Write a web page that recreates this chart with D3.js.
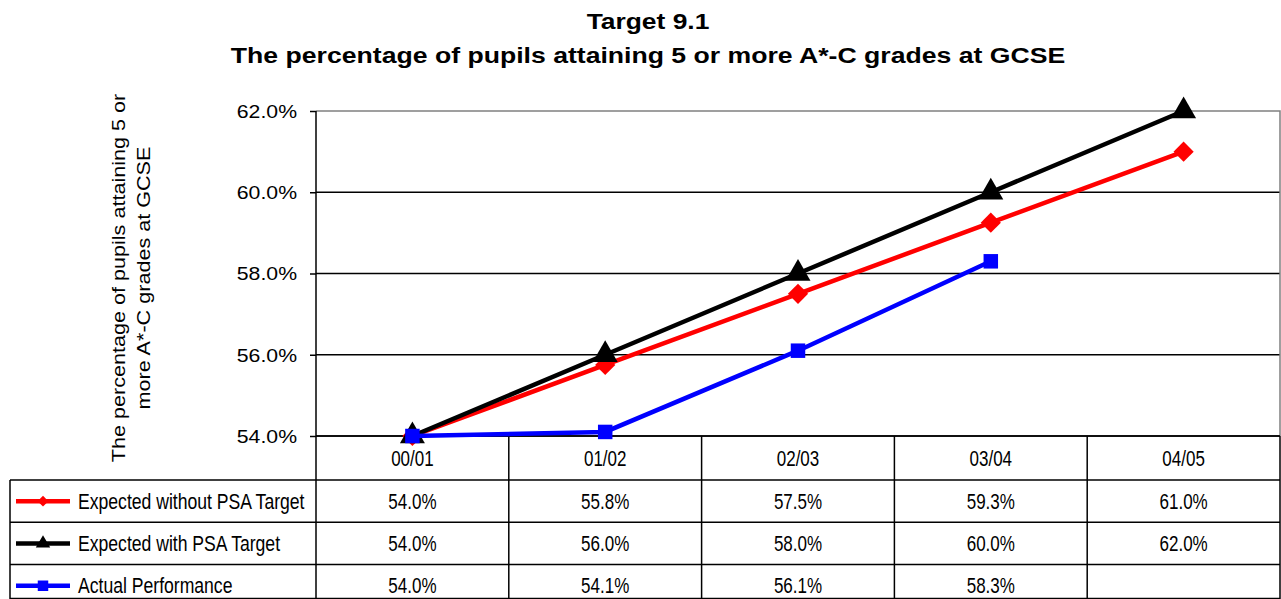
<!DOCTYPE html>
<html>
<head>
<meta charset="utf-8">
<script src="https://cdn.jsdelivr.net/npm/d3@7"></script>
<style>
  body { margin: 0; background: #fff; }
  svg { font-family: "Liberation Sans", Arial, sans-serif; }
</style>
</head>
<body>
<svg width="1281" height="599"></svg>
<script>
const years = ['00/01', '01/02', '02/03', '03/04', '04/05'];
const withoutPSA = [54.0, 55.75, 57.5, 59.25, 61.0];
const withPSA = [54.0, 56.0, 58.0, 60.0, 62.0];
const actual = [54.0, 54.1, 56.1, 58.3, null];
const yTicks = [54, 56, 58, 60, 62];

const series = [
  { name: 'Expected without PSA Target', values: withoutPSA, color: '#ff0000', symbol: d3.symbolDiamond2, size: 260, legendSize: 75 },
  { name: 'Expected with PSA Target', values: withPSA, color: '#000000', symbol: d3.symbolTriangle, size: 270, legendSize: 90 },
  { name: 'Actual Performance', values: actual, color: '#0000ff', symbol: d3.symbolSquare, size: 210, legendSize: 110 }
];

const svg = d3.select('svg');
const plotL = 316, plotR = 1280, plotT = 111, plotB = 436;
const rowH = 42.3, headerBottom = 480, tableBottom = 599;

const x = d3.scaleBand().domain(years).range([plotL, plotR]);
const y = d3.scaleLinear().domain([54, 62]).range([plotB, plotT]);
const cx = d => x(d) + x.bandwidth() / 2;

// text placed at (px,py), stretched by (sx,sy)
function label(parent, px, py, txt, size, sx, sy, anchor) {
  return parent.append('text')
    .attr('transform', `translate(${px},${py}) scale(${sx},${sy})`)
    .attr('text-anchor', anchor || 'middle')
    .attr('font-size', size)
    .text(txt);
}

// title
label(svg, 648, 29, 'Target 9.1', 22, 1.2, 1).attr('font-weight', 'bold');
label(svg, 648, 63, 'The percentage of pupils attaining 5 or more A*-C grades at GCSE', 22, 1.21, 1)
  .attr('font-weight', 'bold');

// y axis label
const yl = svg.append('g').attr('transform', 'translate(125,278) rotate(-90)');
label(yl, 0, 0, 'The percentage of pupils attaining 5 or', 18, 1.2, 1);
label(yl, 0, 25, 'more A*-C grades at GCSE', 18, 1.2, 1);

// gridlines
svg.append('g').selectAll('line').data(yTicks.slice(0, -1))
  .enter().append('line')
  .attr('x1', plotL).attr('x2', plotR)
  .attr('y1', d => y(d)).attr('y2', d => y(d))
  .attr('stroke', '#000').attr('stroke-width', 1.5);

// plot border top/right (gray)
svg.append('path')
  .attr('d', `M${plotL},${y(62)}H${plotR}V${plotB}`)
  .attr('fill', 'none').attr('stroke', '#808080').attr('stroke-width', 1.5);

// y axis
const yAxis = d3.axisLeft(y).tickValues(yTicks).tickSize(6).tickFormat(d => d.toFixed(1) + '%');
svg.append('g')
  .attr('transform', `translate(${plotL},0)`)
  .call(yAxis)
  .call(g => g.select('.domain').remove())
  .call(g => g.selectAll('line').attr('stroke', '#000').attr('stroke-width', 1.5))
  .call(g => g.selectAll('text')
    .attr('font-size', 18).attr('fill', '#000')
    .attr('font-family', '"Liberation Sans", Arial, sans-serif')
    .attr('transform', 'scale(1.18,1)')
    .attr('x', -19 / 1.18).attr('dy', '0.36em'));

// table grid
const tbl = svg.append('g').attr('stroke', '#000').attr('stroke-width', 1.5);
const colEdges = years.map(d => x(d)).concat([plotR]);
tbl.selectAll('line.col').data(colEdges).enter().append('line')
  .attr('class', 'col')
  .attr('x1', d => d).attr('x2', d => d)
  .attr('y1', d => d === plotL ? plotT : plotB).attr('y2', tableBottom);
tbl.append('line').attr('x1', 10).attr('x2', 10).attr('y1', headerBottom).attr('y2', tableBottom);
const rowLines = [headerBottom, headerBottom + rowH, headerBottom + 2 * rowH, tableBottom - 0.5];
tbl.selectAll('line.row').data(rowLines).enter().append('line')
  .attr('class', 'row')
  .attr('x1', 10).attr('x2', plotR)
  .attr('y1', d => d).attr('y2', d => d);
tbl.append('line').attr('x1', plotL).attr('x2', plotR).attr('y1', plotB).attr('y2', plotB);

// category labels
const catG = svg.append('g');
years.forEach(d => label(catG, cx(d), 466, d, 17, 1, 1.27));

// table rows
const fmt = v => v == null ? '' : (Math.round(v * 10) / 10).toFixed(1) + '%';
series.forEach((s, i) => {
  const cy = headerBottom + rowH * i + rowH / 2;
  const row = svg.append('g');
  row.append('line')
    .attr('x1', 16).attr('x2', 70).attr('y1', cy).attr('y2', cy)
    .attr('stroke', s.color).attr('stroke-width', 4.5);
  row.append('path')
    .attr('transform', `translate(43,${cy})`)
    .attr('d', d3.symbol().type(s.symbol).size(s.legendSize)())
    .attr('fill', s.color);
  label(row, 78, cy + 7.5, s.name, 17.6, 1, 1.25, 'start');
  s.values.forEach((v, j) => label(row, cx(years[j]), cy + 7.5, fmt(v), 17, 1, 1.25));
});

// lines + markers
const line = d3.line()
  .defined(d => d.v != null)
  .x(d => cx(d.c))
  .y(d => y(d.v));

series.forEach(s => {
  const pts = s.values.map((v, j) => ({ c: years[j], v }));
  svg.append('path')
    .attr('d', line(pts))
    .attr('fill', 'none')
    .attr('stroke', s.color)
    .attr('stroke-width', 4.5);
  svg.append('g').selectAll('path').data(pts.filter(d => d.v != null)).enter().append('path')
    .attr('transform', d => `translate(${cx(d.c)},${y(d.v)})`)
    .attr('d', d3.symbol().type(s.symbol).size(s.size)())
    .attr('fill', s.color);
});
</script>
</body>
</html>
